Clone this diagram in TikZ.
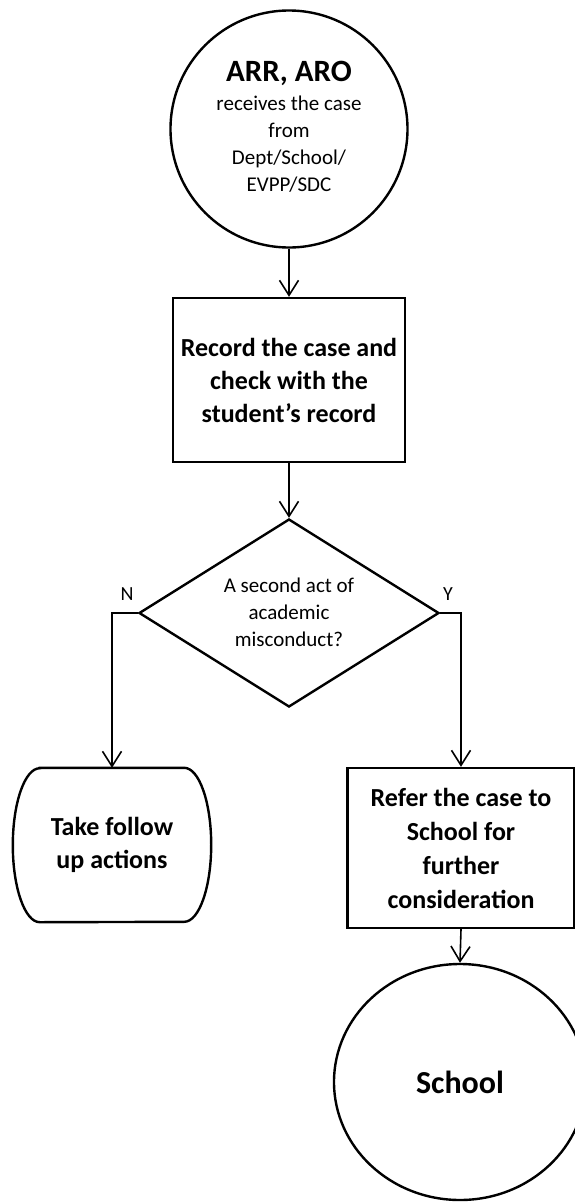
\documentclass[tikz,border=0pt]{standalone}
\usepackage{fontspec}
\setmainfont{Carlito}
\usetikzlibrary{shapes.geometric,arrows.meta}
\begin{document}
\begin{tikzpicture}[x=1pt,y=-1pt,
  shapeline/.style={draw=black,line width=2.4pt},
  conn/.style={line width=1.6pt,-{Straight Barb[length=15pt,width=19pt]}},
  boldtext/.style={font=\fontsize{26}{33}\selectfont\bfseries,align=center},
  smalltext/.style={font=\fontsize{21}{27}\selectfont,align=center},
  lab/.style={font=\fontsize{20}{22}\selectfont}]
\useasboundingbox (0,0) rectangle (575,1203);
\fill[white] (0,0) rectangle (575,1203);

% start circle
\node[shapeline,circle,minimum size=237pt,inner sep=0pt] (start) at (289,129) {};
\node[smalltext] (starttext) at (289,127) {{\fontsize{31}{31}\selectfont\bfseries ARR, ARO}\\[2pt]receives the case\\from\\Dept/School/\\EVPP/SDC};

% record box
\node[shapeline,rectangle,minimum width=232pt,minimum height=164pt,inner sep=0pt,boldtext] (record) at (289,380) {Record the case and\\check with the\\student’s record};

% decision diamond
\node[shapeline,diamond,minimum width=300pt,minimum height=188pt,inner sep=0pt] (dec) at (289,613) {};
\node[smalltext] (dectext) at (289,612) {A second act of\\academic\\misconduct?};

% N / Y labels
\node[lab] (nlab) at (127,594) {N};
\node[lab] (ylab) at (448,594) {Y};

% follow up terminal
\node[minimum width=198pt,minimum height=154pt,inner sep=0pt,boldtext] (follow) at (112,845) {Take follow\\up actions};
\draw[shapeline] ([xshift=27pt]follow.north west) -- ([xshift=-27pt]follow.north east)
  arc[start angle=90,end angle=-90,x radius=27pt,y radius=77pt]
  -- ([xshift=27pt]follow.south west)
  arc[start angle=270,end angle=90,x radius=27pt,y radius=77pt] -- cycle;

% refer box
\node[shapeline,rectangle,minimum width=227pt,minimum height=160pt,inner sep=0pt,font=\fontsize{26}{34}\selectfont\bfseries,align=center] (refer) at (461,848) {Refer the case to\\School for\\further\\consideration};

% school ellipse
\node[shapeline,ellipse,minimum width=252pt,minimum height=236pt,inner sep=0pt,font=\fontsize{32}{34}\selectfont\bfseries] (school) at (460,1082) {School};

% connectors
\coordinate (ncorner) at (112,613);
\coordinate (ycorner) at (461,613);
\draw[conn] (start.south) -- (record.north);
\draw[conn] (record.south) -- (dec.north);
\draw[conn] (dec.west) -- (ncorner) -- (follow.north);
\draw[conn] (dec.east) -- (ycorner) -- (refer.north);
\draw[conn] (refer.south) -- (school.north);
\end{tikzpicture}
\end{document}
